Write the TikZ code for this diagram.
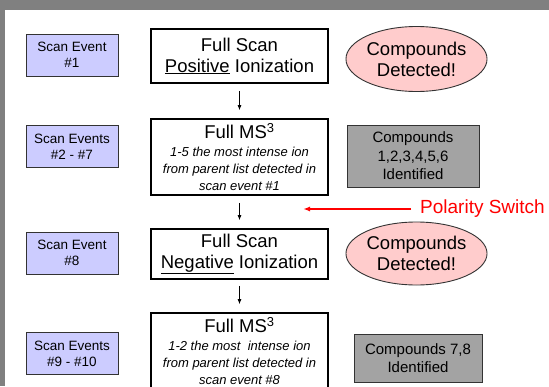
\documentclass[tikz,border=0pt]{standalone}
\usepackage{fontspec}
\setmainfont{Liberation Sans}
\usetikzlibrary{arrows.meta,shapes.geometric}
\definecolor{framegray}{HTML}{808080}
\definecolor{evpurple}{HTML}{CCCCFF}
\definecolor{detpink}{HTML}{FFCCCC}
\definecolor{idgray}{HTML}{A3A3A3}
\definecolor{edgegray}{HTML}{333333}
\tikzset{
  evbox/.style={draw=edgegray, line width=0.9pt, fill=evpurple, minimum width=92pt, minimum height=42pt, inner sep=0pt, align=center, font=\fontsize{13.5}{16}\selectfont},
  mainbox/.style={draw=black, line width=1.8pt, fill=white, minimum width=177pt, inner sep=0pt, align=center, font=\fontsize{18.5}{21}\selectfont},
  detell/.style={draw=edgegray, line width=0.9pt, fill=detpink, ellipse, minimum width=125pt, minimum height=65pt, inner sep=0pt, align=center, font=\fontsize{18.5}{21}\selectfont},
  idbox/.style={draw=edgegray, line width=0.9pt, fill=idgray, inner sep=0pt, align=center, font=\fontsize{15}{18.4}\selectfont},
  arr/.style={-{Latex[length=5pt,width=4pt]}, line width=0.7pt, black},
  redarr/.style={-{Latex[length=7pt,width=5pt]}, line width=1.4pt, red},
}
\newcommand{\smit}[1]{{\fontsize{13}{16.5}\selectfont\itshape #1}}
\begin{document}
\begin{tikzpicture}[x=1pt,y=-1pt]
\useasboundingbox (0,0) rectangle (549,386);
\fill[framegray] (0,0) rectangle (549,386);
\fill[white] (5,10) rectangle (549,386);

% scan event boxes
\node[evbox] (se1) at (72,55) {Scan Event\\\#1};
\node[evbox] (se2) at (72,146.5) {Scan Events\\\#2 - \#7};
\node[evbox] (se3) at (72,253) {Scan Event\\\#8};
\node[evbox] (se4) at (72,353.5) {Scan Events\\\#9 - \#10};

% main column
\node[mainbox, minimum height=54pt] (fs1) at (239.5,56) {Full Scan\\\underline{Positive} Ionization};
\node[mainbox, minimum height=76pt] (ms1) at (239.5,157) {Full MS\textsuperscript{3}\\[-3pt]\smit{1-5 the most intense ion}\\[-4pt]\smit{from parent list detected in}\\[-4pt]\smit{scan event \#1}};
\node[mainbox, minimum height=50pt] (fs2) at (239.5,254) {Full Scan\\\underline{Negative} Ionization};
\node[mainbox, minimum height=76pt] (ms2) at (239.5,351) {Full MS\textsuperscript{3}\\[-3pt]\smit{1-2 the most\ \ intense ion}\\[-4pt]\smit{from parent list detected in}\\[-4pt]\smit{scan event \#8}};

% results
\node[detell] (det1) at (416.5,59) {Compounds\\Detected!};
\node[idbox, minimum width=132pt, minimum height=62pt] (id1) at (413,156) {Compounds\\1,2,3,4,5,6\\Identified};
\node[detell, minimum height=63pt] (det2) at (416.5,253.5) {Compounds\\Detected!};
\node[idbox, minimum width=128pt, minimum height=48pt] (id2) at (418,358) {Compounds 7,8\\Identified};

% arrows
\draw[arr, shorten <=7pt, shorten >=8pt] (fs1.south) -- (ms1.north);
\draw[arr, shorten <=7pt, shorten >=8pt] (ms1.south) -- (fs2.north);
\draw[arr, shorten <=6pt, shorten >=8pt] (fs2.south) -- (ms2.north);

% polarity switch
\node[anchor=west, text=red, inner sep=0pt, font=\fontsize{19}{22}\selectfont] (ps) at (420,209) {Polarity Switch};
\coordinate (pstip) at (303,209);
\draw[redarr, shorten <=9pt] (ps.west) -- (pstip);
\end{tikzpicture}
\end{document}
